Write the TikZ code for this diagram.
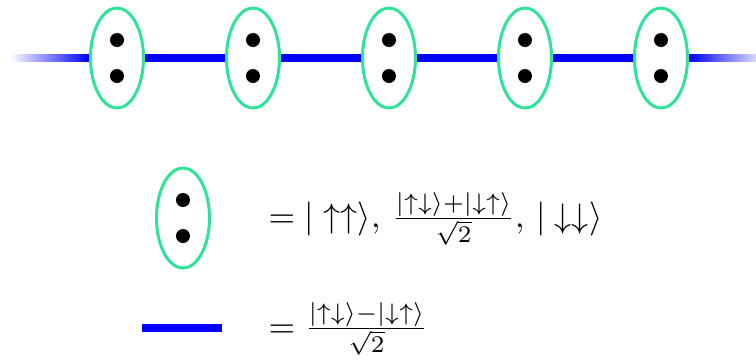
\documentclass[tikz,border=0pt]{standalone}
\usetikzlibrary{shapes.geometric,calc}
\definecolor{mint}{RGB}{45,228,150}
\begin{document}
\begin{tikzpicture}[x=0.01cm,y=-0.01cm,line join = round,
	pair/.style={ellipse,draw=mint,line width=0.85pt,fill=white,inner sep=0pt,minimum width=0.53cm,minimum height=1cm},
	singlet/.style={blue,line width=2pt}]
		\useasboundingbox (0,0) rectangle (756,360);
		% chain of pairs
		\foreach \i/\x in {1/117,2/253,3/389,4/525,5/661}
			\node[pair] (e\i) at (\x,58) {};
		\foreach \i/\j in {1/2,2/3,3/4,4/5}
			\draw[singlet] (e\i) -- (e\j);
		\coordinate (fl) at (10,58);
		\coordinate (fr) at (756,58);
		\shade[left color=white,right color=blue] ($(fl)+(0,-3.5)$) rectangle ($(e1.west)+(0,3.5)$);
		\shade[left color=blue,right color=blue!15] ($(e5.east)+(0,-3.5)$) rectangle ($(fr)+(0,3.5)$);
		% legend
		\node[pair] (ep) at (183,218) {};
		\foreach \n in {e1,e2,e3,e4,e5,ep}{
			\fill ($(\n.center)+(0,-18)$) circle (0.07cm);
			\fill ($(\n.center)+(0,18)$) circle (0.07cm);
		}
		\node[anchor=base west,inner sep=0pt,scale=0.97] (t1) at (268,227) {$=|\uparrow\uparrow\rangle,\,\frac{|\uparrow\downarrow\rangle+|\downarrow\uparrow\rangle}{\sqrt{2}},\,|\downarrow\downarrow\rangle$};
		\coordinate (la) at (142,328);
		\coordinate (lb) at (222,328);
		\draw[singlet] (la) -- (lb);
		\node[anchor=base west,inner sep=0pt,scale=0.97] (t2) at (268,337) {$=\frac{|\uparrow\downarrow\rangle-|\downarrow\uparrow\rangle}{\sqrt{2}}$};
\end{tikzpicture}
\end{document}
